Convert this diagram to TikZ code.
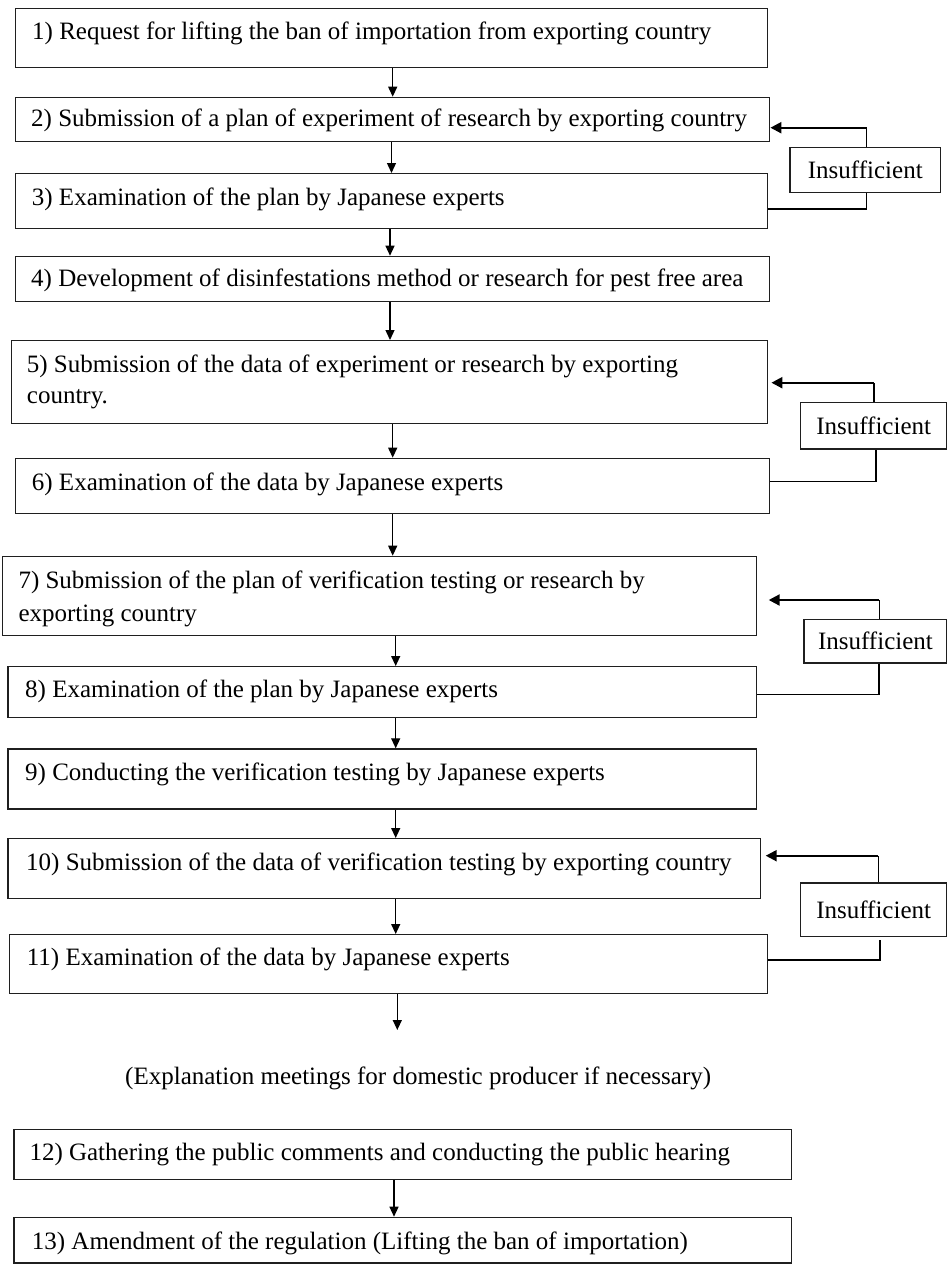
\documentclass[tikz,border=0pt]{standalone}
\usepackage{fontspec}
\setmainfont{Liberation Serif}
\usetikzlibrary{arrows.meta}
\begin{document}
\begin{tikzpicture}[x=1pt,y=-1pt,
  box/.style={draw=black!88, line width=1.4pt, anchor=north west, inner sep=0pt},
  ibox/.style={draw=black!88, line width=1.3pt, anchor=north west, inner sep=0pt, font=\fontsize{25}{30}\selectfont},
  txt/.style={inner sep=0pt, anchor=base west, font=\fontsize{25}{30}\selectfont},
  arr/.style={line width=1.3pt, -{Triangle[length=10pt,width=9pt]}},
  ln/.style={line width=1.1pt},
  fbarr/.style={line width=2.2pt, -{Triangle[length=11pt,width=11pt]}}]
\useasboundingbox (0,0) rectangle (947,1264);
% main boxes
\node[box, minimum width=752.3pt, minimum height=58.5pt] (b1) at (14.7,8) {};
\node[box, minimum width=754.3pt, minimum height=44.3pt] (b2) at (14.7,96.7) {};
\node[box, minimum width=752pt, minimum height=54.7pt] (b3) at (14.7,173) {};
\node[box, minimum width=754.3pt, minimum height=45.3pt] (b4) at (14.7,255.7) {};
\node[box, minimum width=756pt, minimum height=82.7pt] (b5) at (10.7,340) {};
\node[box, minimum width=754.3pt, minimum height=55.3pt] (b6) at (14.7,457.7) {};
\node[box, minimum width=754.3pt, minimum height=79.3pt] (b7) at (1.7,555.7) {};
\node[box, minimum width=748.7pt, minimum height=50.7pt] (b8) at (7.3,666) {};
\node[box, minimum width=748.7pt, minimum height=60pt] (b9) at (7.3,748.3) {};
\node[box, minimum width=752.7pt, minimum height=60pt] (b10) at (7.3,838) {};
\node[box, minimum width=757.7pt, minimum height=58.7pt] (b11) at (9,934) {};
\node[box, minimum width=777.7pt, minimum height=50pt] (b12) at (13.3,1129) {};
\node[box, minimum width=777.7pt, minimum height=45.5pt] (b13) at (13.3,1216.7) {};
% texts
\node[txt] (t1) at (32,39.8) {1) Request for lifting the ban of importation from exporting country};
\node[txt] (t2) at (31,126) {2) Submission of a plan of experiment of research by exporting country};
\node[txt] (t3) at (31.7,205.5) {3) Examination of the plan by Japanese experts};
\node[txt] (t4) at (31,286) {4) Development of disinfestations method or research for pest free area};
\node[txt] (t5) at (26.7,372) {5) Submission of the data of experiment or research by exporting};
\node[txt] (t5b) at (26.7,403) {country.};
\node[txt] (t6) at (31.7,490) {6) Examination of the data by Japanese experts};
\node[txt] (t7) at (18.3,588) {7) Submission of the plan of verification testing or research by};
\node[txt] (t7b) at (18.3,621.5) {exporting country};
\node[txt] (t8) at (25,697.5) {8) Examination of the plan by Japanese experts};
\node[txt] (t9) at (25,780.5) {9) Conducting the verification testing by Japanese experts};
\node[txt] (t10) at (26,870.5) {10) Submission of the data of verification testing by exporting country};
\node[txt] (t11) at (26.7,965.5) {11) Examination of the data by Japanese experts};
\node[txt] (note) at (125,1084.5) {(Explanation meetings for domestic producer if necessary)};
\node[txt] (t12) at (29.3,1160.5) {12) Gathering the public comments and conducting the public hearing};
\node[txt] (t13) at (31.7,1249) {13) Amendment of the regulation (Lifting the ban of importation)};
% insufficient boxes
\node[ibox, minimum width=150.7pt, minimum height=45pt] (i1) at (789.3,146.7) {Insufficient};
\node[ibox, minimum width=146pt, minimum height=46.6pt] (i2) at (800,401.7) {Insufficient};
\node[ibox, minimum width=143pt, minimum height=43.3pt] (i3) at (803.3,619) {Insufficient};
\node[ibox, minimum width=146pt, minimum height=53.4pt] (i4) at (800,882.3) {Insufficient};
% columns for vertical arrows
\coordinate (xa) at (392.7,0);
\coordinate (xb) at (391.5,0);
\coordinate (xc) at (390,0);
\coordinate (xd) at (395.7,0);
\coordinate (xe) at (397.3,0);
\coordinate (xf) at (394,0);
\coordinate (nend) at (397.3,1030);
\draw[arr] (b1.south -| xa) -- (b2.north -| xa);
\draw[arr] (b2.south -| xb) -- (b3.north -| xb);
\draw[arr] (b3.south -| xc) -- (b4.north -| xc);
\draw[arr] (b4.south -| xc) -- (b5.north -| xc);
\draw[arr] (b5.south -| xa) -- (b6.north -| xa);
\draw[arr] (b6.south -| xa) -- (b7.north -| xa);
\draw[arr] (b7.south -| xd) -- (b8.north -| xd);
\draw[arr] (b8.south -| xd) -- (b9.north -| xd);
\draw[arr] (b9.south -| xd) -- (b10.north -| xd);
\draw[arr] (b10.south -| xd) -- (b11.north -| xd);
\draw[arr] (b11.south -| xe) -- (nend);
\draw[arr] (b12.south -| xf) -- (b13.north -| xf);
% feedback loops
\coordinate (f1) at (866.7,127.7);
\coordinate (r1) at (866.7,209);
\draw[ln] (i1.north -| f1) -- (f1);
\draw[fbarr] (f1) -- (b2.east |- f1);
\draw[ln] (b3.east |- r1) -- (r1) -- (i1.south -| r1);
\coordinate (f2) at (874,382.7);
\coordinate (r2) at (876,481.7);
\draw[ln] (i2.north -| f2) -- (f2);
\draw[fbarr, shorten >=3.3pt] (f2) -- (b5.east |- f2);
\draw[ln] (b6.east |- r2) -- (r2) -- (i2.south -| r2);
\coordinate (f3) at (879.3,600);
\coordinate (r3) at (879,694.3);
\draw[ln] (i3.north -| f3) -- (f3);
\draw[fbarr, shorten >=11.3pt] (f3) -- (b7.east |- f3);
\draw[ln] (b8.east |- r3) -- (r3) -- (i3.south -| r3);
\coordinate (f4) at (878.3,855.7);
\coordinate (r4) at (880,960);
\draw[ln] (i4.north -| f4) -- (f4);
\draw[fbarr, shorten >=4.3pt] (f4) -- (b10.east |- f4);
\draw[ln, shorten >=3.3pt] (b11.east |- r4) -- (r4) -- (i4.south -| r4);
\end{tikzpicture}
\end{document}
